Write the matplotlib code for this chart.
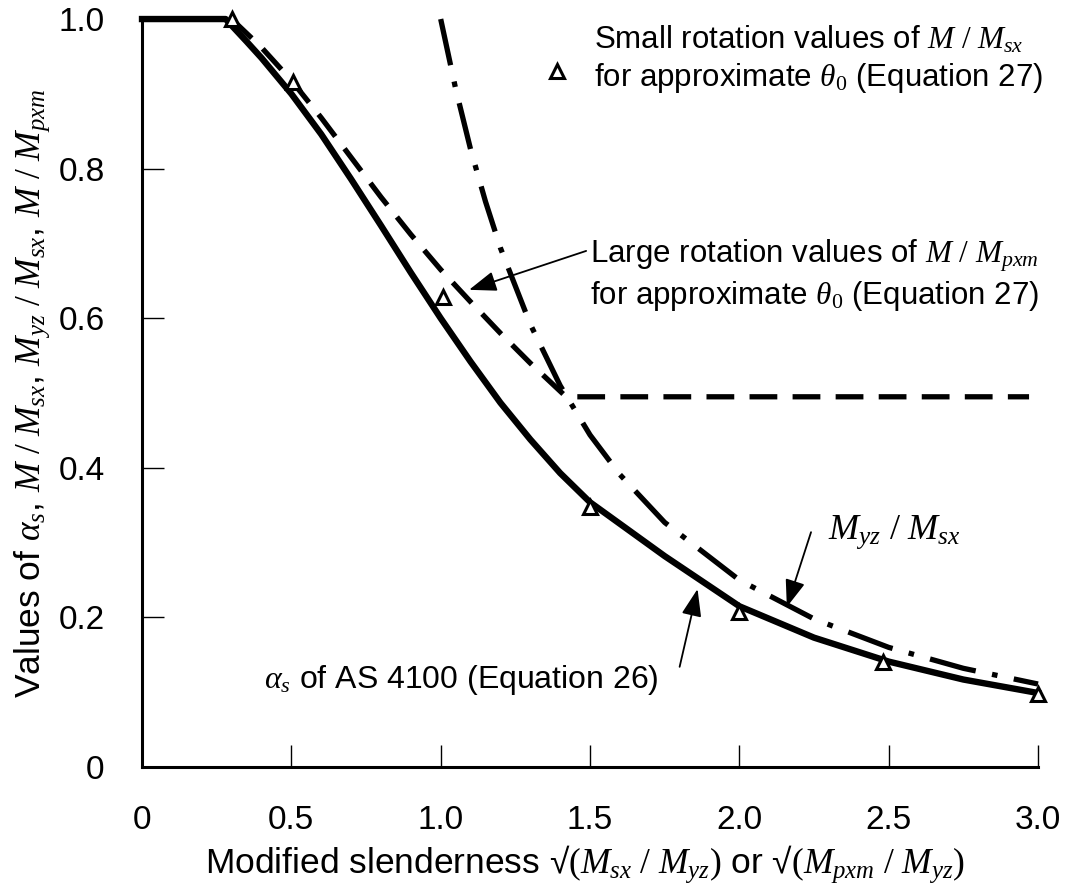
import numpy as np
import matplotlib.pyplot as plt
from matplotlib.legend_handler import HandlerLine2D

plt.rcParams['font.family'] = ['Liberation Sans', 'DejaVu Sans']
plt.rcParams['mathtext.fontset'] = 'custom'
plt.rcParams['mathtext.it'] = 'Liberation Serif:italic'
plt.rcParams['mathtext.rm'] = 'Liberation Serif'
plt.rcParams['lines.scale_dashes'] = False

# alpha_s of AS 4100 (solid)
alpha_x = [0.0, 0.28, 0.35, 0.4, 0.5, 0.6, 0.7, 0.8, 0.9, 1.0, 1.1, 1.2, 1.3, 1.4, 1.5,
           1.75, 2.0, 2.25, 2.5, 2.75, 3.0]
alpha_y = [1.0, 1.0, 0.97, 0.948, 0.90, 0.846, 0.786, 0.724, 0.661, 0.60, 0.542, 0.487,
           0.438, 0.393, 0.354, 0.282, 0.215, 0.173, 0.141, 0.117, 0.099]

# Myz / Msx (dash-dot)
myz_x = [1.0, 1.05, 1.1, 1.15, 1.2, 1.3, 1.4, 1.5, 1.6, 1.75, 2.0, 2.25, 2.5, 2.75, 3.0]
myz_y = [1.0, 0.907, 0.826, 0.756, 0.694, 0.592, 0.51, 0.444, 0.391, 0.327, 0.25, 0.198,
         0.16, 0.132, 0.111]

# large rotation values (dashed)
large_x = [0.3, 0.4, 0.5, 0.6, 0.7, 0.8, 0.9, 1.0, 1.1, 1.2, 1.3, 1.42, 2.97]
large_y = [1.0, 0.962, 0.918, 0.868, 0.815, 0.762, 0.712, 0.665, 0.622, 0.58, 0.54, 0.495, 0.495]

# small rotation values (triangles)
small_x = [0.3, 0.505, 1.007, 1.5, 2.0, 2.48, 3.0]
small_y = [1.0, 0.916, 0.628, 0.348, 0.207, 0.14, 0.097]

xticks = [0, 0.5, 1.0, 1.5, 2.0, 2.5, 3.0]
xticklabels = ['0', '0.5', '1.0', '1.5', '2.0', '2.5', '3.0']
yticks = [0, 0.2, 0.4, 0.6, 0.8, 1.0]
yticklabels = ['0', '0.2', '0.4', '0.6', '0.8', '1.0']

fs = 22.5


class LowMarker(HandlerLine2D):
    # legend key sits next to the second text line
    def create_artists(self, legend, orig_handle, xdescent, ydescent, width, height,
                       fontsize, trans):
        arts = super().create_artists(legend, orig_handle, xdescent, ydescent, width,
                                      height, fontsize, trans)
        for a in arts:
            a.set_ydata(np.asarray(a.get_ydata()) - 8.0)
        return arts


fig = plt.figure(figsize=(10.85, 8.94), dpi=100)
ax = fig.add_axes([0.1309, 0.142, 0.8258, 0.8367])

ax.plot(alpha_x, alpha_y, color='k', lw=4.6, clip_on=False, zorder=3)
ax.plot(myz_x, myz_y, color='k', lw=3.8, dashes=(34, 12, 4, 12),
        dash_capstyle='butt', clip_on=False, zorder=3)
ax.plot(large_x, large_y, color='k', lw=3.8, dashes=(20, 11),
        dash_capstyle='butt', clip_on=False, zorder=3)
tri, = ax.plot(small_x, small_y, ls='none', marker='^', ms=10, mfc='white',
               mec='k', mew=2.2, clip_on=False, zorder=5)

ax.set_xlim(0, 3.0)
ax.set_ylim(0, 1.0)
for side in ['top', 'right']:
    ax.spines[side].set_visible(False)
for side in ['left', 'bottom']:
    ax.spines[side].set_linewidth(2.2)

ax.set_xticks(xticks)
ax.set_xticklabels(xticklabels)
ax.set_yticks(yticks)
ax.set_yticklabels(yticklabels)
ax.tick_params(direction='in', length=16, width=1, pad=27, labelsize=24)

ax.set_xlabel(r'Modified slenderness √$(M_{sx}\ /\ M_{yz})$ or √$(M_{pxm}\ /\ M_{yz})$',
              fontsize=25.5)
ax.xaxis.set_label_coords(0.494, -0.102)
ax.set_ylabel(r'Values of $\alpha_s$, $M\ /\ M_{sx}$, $M_{yz}\ /\ M_{sx}$, $M\ /\ M_{pxm}$',
              fontsize=25.5)
ax.yaxis.set_label_coords(-0.101, 0.5)

# legend for triangles
ax.legend([tri], ['Small rotation values of $M\\ /\\ M_{sx}$\nfor approximate $\\theta_0$ (Equation 27)'],
          loc='upper left', bbox_to_anchor=(0.435, 1.01), frameon=False, fontsize=fs,
          handlelength=0.8, handletextpad=0.8, borderaxespad=0, labelspacing=0,
          handler_map={tri: LowMarker()})

arrow = dict(arrowstyle='-|>,head_length=0.6,head_width=0.22', color='k', lw=1.3,
             shrinkA=0, shrinkB=0, mutation_scale=28)

ax.text(1.50, 0.657, 'Large rotation values of $M\\ /\\ M_{pxm}$\nfor approximate $\\theta_0$ (Equation 27)',
        fontsize=fs, ha='left', va='center')
ax.annotate('', xy=(1.095, 0.638), xytext=(1.487, 0.69), arrowprops=arrow)

ax.text(2.297, 0.314, r'$M_{yz}\ /\ M_{sx}$', fontsize=26, ha='left', va='center')
ax.annotate('', xy=(2.159, 0.214), xytext=(2.24, 0.314), arrowprops=arrow)

ax.text(1.73, 0.116, r'$\alpha_s$ of AS 4100 (Equation 26)', fontsize=23, ha='right',
        va='center')
ax.annotate('', xy=(1.86, 0.238), xytext=(1.80, 0.134), arrowprops=arrow)

fig.savefig('out.png', dpi=100)
